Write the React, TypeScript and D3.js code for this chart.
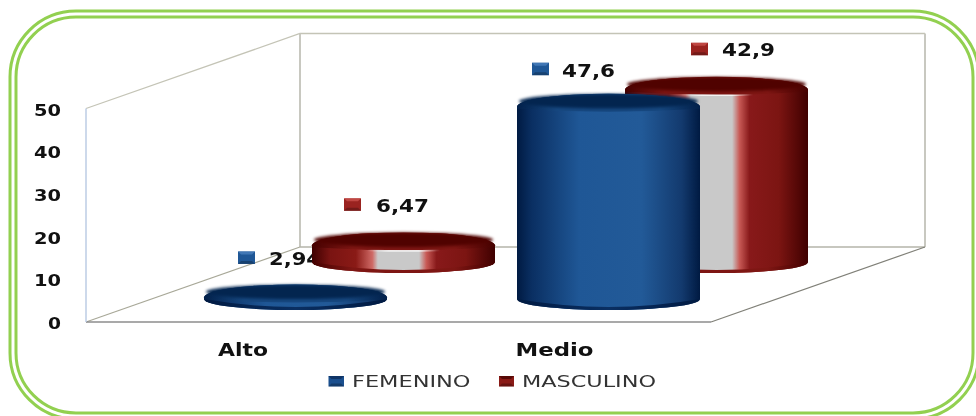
import React from "react";
import * as d3 from "d3";

const categories = ["Alto", "Medio"];
const femenino = [2.94, 47.6];
const masculino = [6.47, 42.9];
const femeninoLabels = ["2,94", "47,6"];
const masculinoLabels = ["6,47", "42,9"];
const yTicks = [0, 10, 20, 30, 40, 50];
const legendNames = ["FEMENINO", "MASCULINO"];

const W = 976, H = 416;
const FONT = "'DejaVu Sans', sans-serif";
const front = { x0: 86, x1: 711, y: 322 };
const back = { x0: 300, x1: 925, y: 247 };
const top50 = 108.5;
const yAxis = d3.scaleLinear().domain([0, 50]).range([front.y, top50]);
const k = yAxis(0) - yAxis(1);
const backTop = top50 - (front.y - back.y);
const cylW = 183, ry = 6.5;
const frontBase = 303.5, backBase = 266.5;
const femX = [204, 517];
const masX = [312, 625];
const catLabelX = [243, 554.5];
const catLabelW = [50, 78];
const femKeyX = [238, 532];
const masKeyX = [344, 691];
const femKeyGap = [33, 31];
const masKeyGap = [34, 34];
const femTextX = [269, 562];
const masTextX = [376, 722];

function Cyl({ x, base, h, side, cap, rim, lowerFill, streak }: { x: number; base: number; h: number; side: string; cap: string; rim: string; lowerFill: string; streak?: boolean }) {
  const rx = cylW / 2;
  const cx = x + rx;
  const t = base - h - ry;
  const bot = base + ry;
  const rt = 13, rb = Math.min(11, bot - t - rt);
  const b0 = bot - rb;
  const xr = x + cylW;
  const sil = `M${x},${t + rt} A${rx},${rt} 0 0 1 ${xr},${t + rt} L${xr},${b0} A${rx},${rb} 0 0 1 ${x},${b0} Z`;
  const rimPath = `M${x},${t + rt} A${rx},${rt} 0 0 1 ${xr},${t + rt} L${xr},${t + rt + 2} Q${cx},${t + 21} ${x},${t + rt + 2} Z`;
  const lower = `M${x},${b0} A${rx},${rb} 0 0 0 ${xr},${b0} Q${cx},${b0 + rb * 1.45} ${x},${b0} Z`;
  return (
    <g>
      <path d={sil} fill={`url(#${side})`} />
      <path d={lower} fill={`url(#${lowerFill})`} />
      <path d={rimPath} fill={`url(#${rim})`} />
      {streak && <path d={`M${x + 55},${t + 18} Q${cx},${t + 19} ${x + 128},${t + 18}`} fill="none" stroke="url(#streak)" strokeWidth={1.6} />}
      <ellipse cx={cx} cy={t + 7.4} rx={rx - 2} ry={7.2} fill={cap} filter="url(#soft)" />
    </g>
  );
}

function Key({ x, y, w, h, c1, c2 }: { x: number; y: number; w: number; h: number; c1: string; c2: string }) {
  return (
    <g>
      <rect x={x} y={y} width={w} height={h} fill={c1} />
      <path d={`M${x},${y} L${x + w},${y} L${x + w - 3},${y + 3} L${x + 3},${y + 3} Z`} fill={c2} opacity={0.8} />
      <path d={`M${x},${y + h} L${x + w},${y + h} L${x + w - 3},${y + h - 3} L${x + 3},${y + h - 3} Z`} fill="#000" opacity={0.25} />
    </g>
  );
}

function Bold({ x, y, w, anchor, size, children }: any) {
  return (
    <text x={x} y={y} fontFamily={FONT} fontWeight={700} fontSize={size} fill="#111" textAnchor={anchor}
      textLength={w} lengthAdjust="spacingAndGlyphs">{children}</text>
  );
}

export default function App() {
  const topEdge = (base: number, v: number) => base - k * v - ry;
  return (
    <svg width={W} height={H} viewBox={`0 0 ${W} ${H}`} style={{ position: "absolute", left: 0, top: 0, background: "#fff" }}>
      <defs>
        <filter id="soft" x="-5%" y="-40%" width="110%" height="180%" colorInterpolationFilters="sRGB"><feGaussianBlur stdDeviation="1.4" /></filter>
        <filter id="page" filterUnits="userSpaceOnUse" x="0" y="0" width={W} height={H} colorInterpolationFilters="sRGB"><feGaussianBlur stdDeviation="0.4" /></filter>
        <linearGradient id="blueSide">
          <stop offset="0" stopColor="#001a42" />
          <stop offset="0.08" stopColor="#0a2f62" />
          <stop offset="0.34" stopColor="#1f5796" />
          <stop offset="0.68" stopColor="#225a98" />
          <stop offset="0.9" stopColor="#133a6e" />
          <stop offset="1" stopColor="#001a42" />
        </linearGradient>
        <linearGradient id="redSide">
          <stop offset="0" stopColor="#3f0000" />
          <stop offset="0.1" stopColor="#7a1412" />
          <stop offset="0.24" stopColor="#8a1a16" />
          <stop offset="0.33" stopColor="#cf6a66" />
          <stop offset="0.36" stopColor="#c9c9c9" />
          <stop offset="0.585" stopColor="#c9c9c9" />
          <stop offset="0.625" stopColor="#c85a56" />
          <stop offset="0.68" stopColor="#88191a" />
          <stop offset="0.84" stopColor="#7c1512" />
          <stop offset="1" stopColor="#3f0000" />
        </linearGradient>
        <linearGradient id="blueRim" x1="0" x2="1">
          <stop offset="0" stopColor="#02204a" />
          <stop offset="0.22" stopColor="#174880" />
          <stop offset="0.78" stopColor="#174880" />
          <stop offset="1" stopColor="#02204a" />
        </linearGradient>
        <linearGradient id="redRim" x1="0" x2="1">
          <stop offset="0" stopColor="#450100" />
          <stop offset="0.22" stopColor="#7e1613" />
          <stop offset="0.78" stopColor="#7e1613" />
          <stop offset="1" stopColor="#450100" />
        </linearGradient>
        <linearGradient id="blueLow" x1="0" x2="1">
          <stop offset="0" stopColor="#001a42" />
          <stop offset="0.5" stopColor="#0a2f62" />
          <stop offset="1" stopColor="#001a42" />
        </linearGradient>
        <linearGradient id="streak" x1="0" x2="1">
          <stop offset="0" stopColor="#fff" stopOpacity="0" />
          <stop offset="0.3" stopColor="#fff" stopOpacity="0.75" />
          <stop offset="0.7" stopColor="#fff" stopOpacity="0.75" />
          <stop offset="1" stopColor="#fff" stopOpacity="0" />
        </linearGradient>
      </defs>

      <g filter="url(#page)">
        <rect x={10} y={11} width={969} height={408} rx={66} fill="none" stroke="#92d050" strokeWidth={3} />
        <rect x={16} y={17} width={957} height={396} rx={60} fill="none" stroke="#92d050" strokeWidth={3} />

        <path d={`M${front.x0},${top50} L${back.x0},${backTop} L${back.x1},${backTop}`} fill="none" stroke="#c4c4b6" strokeWidth={1.3} />
        <path d={`M${back.x0},${backTop} L${back.x0},${back.y} M${back.x1},${backTop} L${back.x1},${back.y}`} fill="none" stroke="#c8c8c0" strokeWidth={2} />
        <path d={`M${back.x0},${back.y} L${back.x1},${back.y}`} fill="none" stroke="#b4b4aa" strokeWidth={1.6} />
        <path d={`M${front.x0},${front.y} L${back.x0},${back.y}`} fill="none" stroke="#a8a898" strokeWidth={1.2} />
        <path d={`M${front.x1},${front.y} L${back.x1},${back.y}`} fill="none" stroke="#808078" strokeWidth={1.2} />
        <path d={`M${front.x0},${front.y} L${front.x1},${front.y}`} fill="none" stroke="#8c8c8c" strokeWidth={1.5} />
        <path d={`M${front.x0},${top50} L${front.x0},${front.y}`} fill="none" stroke="#bccde4" strokeWidth={1.5} />

        {yTicks.map(t => (
          <Bold key={t} x={61} y={yAxis(t) + 7} anchor="end" size={15} w={t === 0 ? 13 : 27}>{t}</Bold>
        ))}

        <Key x={femKeyX[0]} y={topEdge(frontBase, femenino[0]) - femKeyGap[0]} w={17} h={12.5} c1="#1f5796" c2="#4a80bd" />
        <Bold x={femTextX[0]} y={topEdge(frontBase, femenino[0]) - femKeyGap[0] + 14} size={17} w={52} anchor="start">{femeninoLabels[0]}</Bold>

        {categories.map((c, i) => (
          <Cyl key={c} x={masX[i]} base={backBase} h={k * masculino[i]} side="redSide" cap="#500200" rim="redRim" lowerFill="redRim" streak />
        ))}
        {categories.map((c, i) => (
          <Cyl key={c} x={femX[i]} base={frontBase} h={k * femenino[i]} side="blueSide" cap="#03254f" rim="blueRim" lowerFill="blueLow" />
        ))}

        <Key x={femKeyX[1]} y={topEdge(frontBase, femenino[1]) - femKeyGap[1]} w={17} h={12.5} c1="#1f5796" c2="#4a80bd" />
        <Bold x={femTextX[1]} y={topEdge(frontBase, femenino[1]) - femKeyGap[1] + 14} size={17} w={53} anchor="start">{femeninoLabels[1]}</Bold>
        {categories.map((c, i) => {
          const y = topEdge(backBase, masculino[i]) - masKeyGap[i];
          return (
            <g key={c}>
              <Key x={masKeyX[i]} y={y} w={17} h={12.5} c1="#9a2320" c2="#c9504c" />
              <Bold x={masTextX[i]} y={y + 13.5} size={17} w={53} anchor="start">{masculinoLabels[i]}</Bold>
            </g>
          );
        })}

        {categories.map((c, i) => (
          <Bold key={c} x={catLabelX[i]} y={356} size={17} w={catLabelW[i]} anchor="middle">{c}</Bold>
        ))}

        <Key x={328.5} y={376} w={15.5} h={10.5} c1="#1a4f8e" c2="#0c2d5c" />
        <text x={352} y={387} fontFamily={FONT} fontSize={16} fill="#333" textLength={118.5} lengthAdjust="spacingAndGlyphs">{legendNames[0]}</text>
        <Key x={499} y={376} w={15} h={10.5} c1="#8a1a16" c2="#4a0503" />
        <text x={522} y={387} fontFamily={FONT} fontSize={16} fill="#333" textLength={134} lengthAdjust="spacingAndGlyphs">{legendNames[1]}</text>
      </g>
    </svg>
  );
}
